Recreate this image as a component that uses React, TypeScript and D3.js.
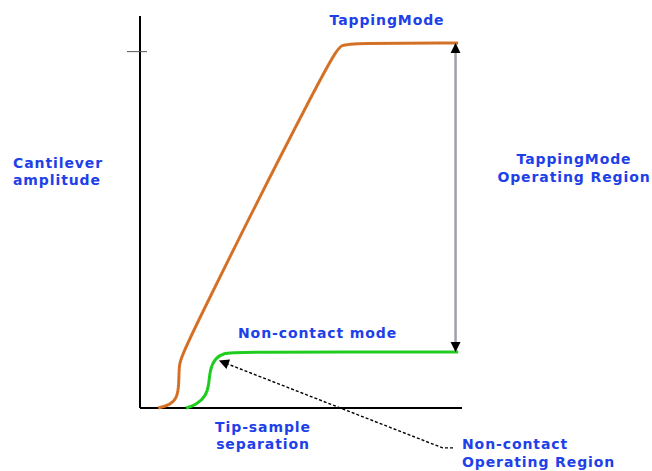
import * as d3 from 'd3'

// curve samples (separation 0..100, amplitude 0..110)
const tappingSep = [5.6, 9.3, 11.5, 12.1, 12.1, 13.0, 59.9, 62.7, 65.8, 98.8]
const tappingAmp = [0, 0.8, 2.8, 6.5, 12, 15.7, 99.9, 101.9, 102.4, 102.4]
const noncontactSep = [14.3, 17.4, 20.5, 21.4, 21.7, 23.3, 26.1, 29.5, 98.8]
const noncontactAmp = [0, 0.8, 3.4, 6.5, 10.7, 14.0, 15.4, 15.7, 15.7]
const yTicks = [100]

const width = 652
const height = 471
const blue = '#1e40e8'
const font = '"DejaVu Sans", Verdana, sans-serif'

export default function App() {
  const x = d3.scaleLinear([0, 100], [140, 462])
  const y = d3.scaleLinear([0, 110], [408, 16])

  const line = d3
    .line<[number, number]>()
    .x(d => x(d[0]))
    .y(d => y(d[1]))
    .curve(d3.curveBasis)

  const tapping = tappingSep.map((s, i) => [s, tappingAmp[i]] as [number, number])
  const noncontact = noncontactSep.map((s, i) => [s, noncontactAmp[i]] as [number, number])

  const topAmp = tappingAmp[tappingAmp.length - 1]
  const lowAmp = noncontactAmp[noncontactAmp.length - 1]
  const arrowX = x(98)

  // leader from the label to the non-contact corner
  const leader = `M${x(97.2)},${y(-11.2)} L${x(94)},${y(-11.2)} L${x(24.8)},${y(13.2)}`

  const label = {
    fontFamily: font,
    fontWeight: 'bold' as const,
    fontSize: 14,
    letterSpacing: 0.9,
    fill: blue,
  }

  return (
    <svg
      width={width}
      height={height}
      style={{ position: 'absolute', left: 0, top: 0, background: '#fff' }}
    >
      <defs>
        <marker id="ah" viewBox="0 0 10 10" refX="9" refY="5" markerWidth="10" markerHeight="12" orient="auto-start-reverse" markerUnits="userSpaceOnUse">
          <path d="M0,0 L10,5 L0,10 z" fill="#000" />
        </marker>
        <marker id="ah2" viewBox="0 0 10 10" refX="9" refY="5" markerWidth="14" markerHeight="10" orient="auto" markerUnits="userSpaceOnUse">
          <path d="M0,0 L10,5 L0,10 z" fill="#000" />
        </marker>
      </defs>

      {/* axes */}
      <line x1={x(0)} x2={x(0)} y1={y(110)} y2={y(0)} stroke="#000" strokeWidth={2} />
      <line x1={x(0)} x2={x(100)} y1={y(0)} y2={y(0)} stroke="#000" strokeWidth={2} />
      {yTicks.map(t => (
        <line key={t} x1={x(0) - 13} x2={x(0) + 7} y1={y(t)} y2={y(t)} stroke="#555" strokeWidth={1} />
      ))}

      {/* curves */}
      <path d={line(tapping) ?? undefined} fill="none" stroke="#d9742a" strokeWidth={3} />
      <path d={line(tapping) ?? undefined} fill="none" stroke="#8a4a10" strokeWidth={1} strokeDasharray="1 2" opacity={0.5} />
      <path d={line(noncontact) ?? undefined} fill="none" stroke="#22d022" strokeWidth={3} />
      <path d={line(noncontact) ?? undefined} fill="none" stroke="#128a12" strokeWidth={1} strokeDasharray="1 2" opacity={0.4} />

      {/* operating region double arrow */}
      <line
        x1={arrowX}
        x2={arrowX}
        y1={y(topAmp) + 1}
        y2={y(lowAmp) - 1}
        stroke="#a0a0a8"
        strokeWidth={2.5}
        markerStart="url(#ah)"
        markerEnd="url(#ah)"
      />

      {/* leader arrow */}
      <path d={leader} fill="none" stroke="#000" strokeWidth={1.4} strokeDasharray="3 2" markerEnd="url(#ah2)" />

      {/* labels */}
      <text x={387} y={25} textAnchor="middle" {...label}>TappingMode</text>
      <text x={13} y={168} {...label}>
        <tspan x={13}>Cantilever</tspan>
        <tspan x={13} dy={17}>amplitude</tspan>
      </text>
      <text x={574} y={164} textAnchor="middle" {...label}>
        <tspan x={574}>TappingMode</tspan>
        <tspan x={574} dy={18}>Operating Region</tspan>
      </text>
      <text x={238} y={338} {...label}>Non-contact mode</text>
      <text x={263} y={432} textAnchor="middle" {...label}>
        <tspan x={263}>Tip-sample</tspan>
        <tspan x={263} dy={17}>separation</tspan>
      </text>
      <text x={462} y={449} {...label}>
        <tspan x={462}>Non-contact</tspan>
        <tspan x={462} dy={18}>Operating Region</tspan>
      </text>
    </svg>
  )
}
